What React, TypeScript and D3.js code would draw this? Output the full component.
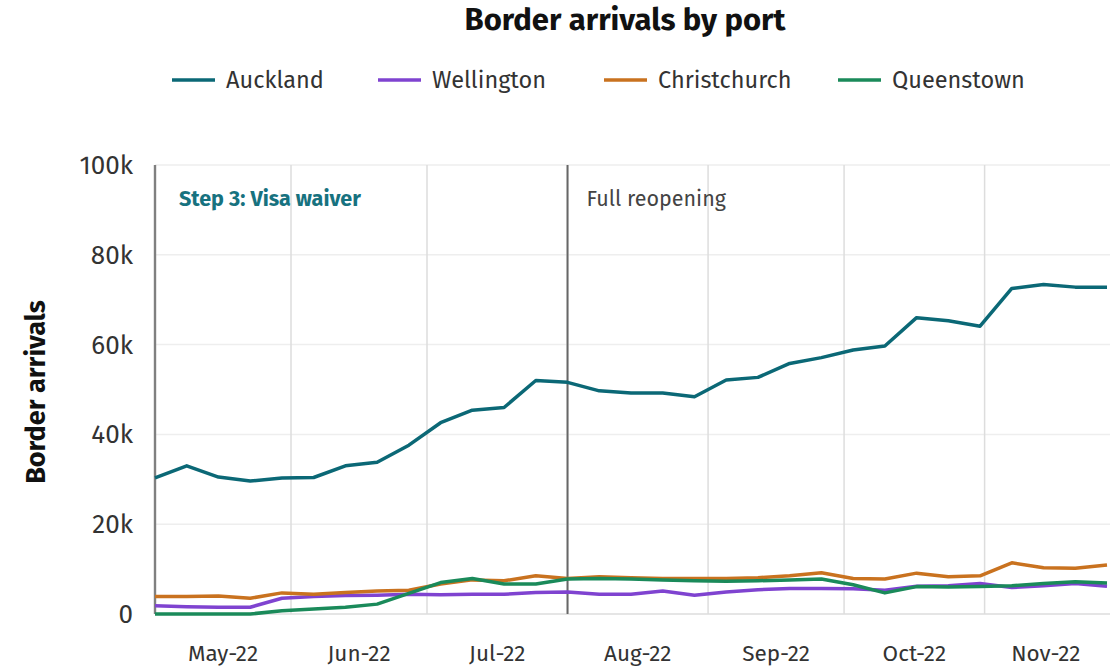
import React from 'react';
import * as d3 from 'd3';

// weekly border arrivals (thousands), week starting
const weeks = [
  '2022-05-02', '2022-05-09', '2022-05-16', '2022-05-23', '2022-05-30',
  '2022-06-06', '2022-06-13', '2022-06-20', '2022-06-27',
  '2022-07-04', '2022-07-11', '2022-07-18', '2022-07-25',
  '2022-08-01', '2022-08-08', '2022-08-15', '2022-08-22', '2022-08-29',
  '2022-09-05', '2022-09-12', '2022-09-19', '2022-09-26',
  '2022-10-03', '2022-10-10', '2022-10-17', '2022-10-24', '2022-10-31',
  '2022-11-07', '2022-11-14', '2022-11-21', '2022-11-28',
];

const auckland = [30.3, 33.0, 30.5, 29.6, 30.3, 30.4, 33.0, 33.8, 37.6, 42.6, 45.4, 46.0, 52.0, 51.6, 49.7, 49.2, 49.2, 48.4, 52.1, 52.7, 55.8, 57.1, 58.8, 59.7, 66.0, 65.3, 64.1, 72.5, 73.4, 72.8, 72.8];
const wellington = [1.85, 1.6, 1.5, 1.5, 3.5, 3.9, 4.1, 4.2, 4.4, 4.3, 4.4, 4.4, 4.8, 4.9, 4.4, 4.4, 5.1, 4.2, 4.9, 5.4, 5.7, 5.7, 5.6, 5.3, 6.2, 6.3, 6.8, 5.9, 6.3, 6.8, 6.2];
const christchurch = [3.9, 3.9, 4.0, 3.5, 4.7, 4.4, 4.8, 5.1, 5.3, 6.7, 7.6, 7.4, 8.5, 7.9, 8.3, 8.1, 7.9, 7.9, 7.9, 8.1, 8.5, 9.2, 7.9, 7.8, 9.1, 8.3, 8.5, 11.4, 10.3, 10.2, 10.9];
const queenstown = [0, 0, 0, 0, 0.7, 1.1, 1.5, 2.2, 4.6, 7.0, 7.9, 6.7, 6.7, 7.8, 7.9, 7.8, 7.6, 7.4, 7.3, 7.4, 7.6, 7.8, 6.5, 4.7, 6.1, 6.0, 6.1, 6.3, 6.8, 7.2, 6.9];

const seriesNames = ['Auckland', 'Wellington', 'Christchurch', 'Queenstown'];
const seriesValues = [auckland, wellington, christchurch, queenstown];
const colors = ['#0b6876', '#7f43d0', '#c9721f', '#1a8a5a'];

const yTicks = [0, 20, 40, 60, 80, 100];
const events = [
  { date: '2022-05-02', label: 'Step 3: Visa waiver' },
  { date: '2022-08-01', label: 'Full reopening' },
];

const font = "'Fira Sans', 'Noto Sans', sans-serif";
const parse = d3.timeParse('%Y-%m-%d');

export default function App() {
  const W = 1111, H = 666;
  const left = 155, right = 1107, top = 165, bottom = 614;
  const dates = weeks.map(d => parse(d) as Date);

  const x = d3.scaleTime()
    .domain([dates[0], dates[dates.length - 1]])
    .range([left, right]);
  const y = d3.scaleLinear().domain([0, 100]).range([bottom, top]);

  const line = d3.line<number>()
    .x((_, i) => x(dates[i]))
    .y(v => y(v));

  const [d0, d1] = x.domain();
  const monthStarts = d3.timeMonth.range(d3.timeMonth.floor(d0), d1);
  const gridMonths = d3.timeMonth.range(d3.timeMonth.ceil(d0), d1);
  const fmt = d3.timeFormat('%b-%y');

  const legendX = [172, 378, 604, 838];

  return (
    <svg width={W} height={H} style={{ position: 'absolute', left: 0, top: 0, background: '#fff' }} fontFamily={font}>
      <text x={625} y={30} textAnchor="middle" fontSize={31} fontWeight={700} fill="#111">Border arrivals by port</text>

      {seriesNames.map((n, i) => (
        <g key={n} transform={`translate(${legendX[i]},80)`}>
          <line x1={0} x2={43} y1={0} y2={0} stroke={colors[i]} strokeWidth={3.5} />
          <text x={54} y={8} fontSize={23.5} fill="#333">{n}</text>
        </g>
      ))}

      {/* horizontal grid */}
      {yTicks.map(t => (
        <g key={t}>
          <line x1={left} x2={1110} y1={y(t)} y2={y(t)} stroke={t === 0 ? '#ddd' : '#eee'} strokeWidth={1.5} />
          <text x={133} y={y(t) + 9} textAnchor="end" fontSize={26} fill="#333">{t === 0 ? '0' : `${t}k`}</text>
        </g>
      ))}

      {/* month gridlines */}
      {gridMonths.map(m => (
        <line key={+m} x1={x(m)} x2={x(m)} y1={top} y2={bottom} stroke="#ddd" strokeWidth={1.5} />
      ))}

      {/* month labels centred in visible span */}
      {monthStarts.map(m => {
        const a = Math.max(x(m), left);
        const b = Math.min(x(d3.timeMonth.offset(m, 1)), right);
        return (
          <text key={+m} x={(a + b) / 2} y={661} textAnchor="middle" fontSize={22.5} fill="#333">{fmt(m)}</text>
        );
      })}

      {/* event markers */}
      {events.map((e, i) => {
        const ex = x(parse(e.date) as Date);
        return (
          <g key={e.label}>
            <line x1={ex} x2={ex} y1={top} y2={bottom} stroke="#999" strokeWidth={2.5} />
            <line x1={ex} x2={ex} y1={top} y2={bottom} stroke="#666" strokeWidth={1} />
            <text x={ex + (i === 0 ? 24 : 19)} y={206} fontSize={21.5} fontWeight={i === 0 ? 700 : 400} fill={i === 0 ? '#17727f' : '#444'}>{e.label}</text>
          </g>
        );
      })}

      {seriesValues.map((vals, i) => (
        <path key={seriesNames[i]} d={line(vals) || ''} fill="none" stroke={colors[i]} strokeWidth={3.5} strokeLinejoin="round" />
      ))}

      <text transform={`translate(45,${392}) rotate(-90)`} textAnchor="middle" fontSize={27} fontWeight={700} fill="#111">Border arrivals</text>
    </svg>
  );
}
